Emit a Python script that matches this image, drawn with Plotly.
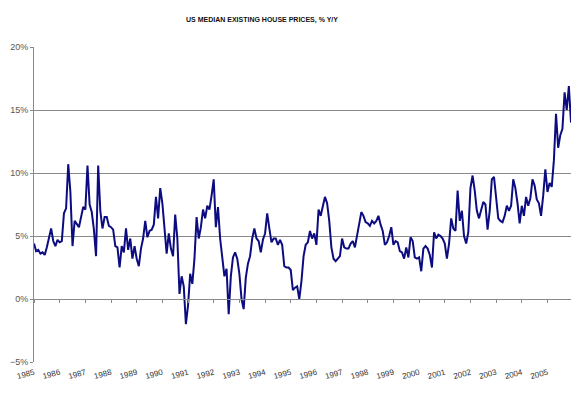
import plotly.graph_objects as go

years = [str(y) for y in range(1985, 2006)]

# Monthly Y/Y % change, Jan 1985 - Dec 2005
v1985 = [4.4, 3.8, 3.9, 3.6, 3.7, 3.5, 4.1, 4.9, 5.6, 4.6, 4.2, 4.7]
v1986 = [4.5, 4.6, 6.8, 7.2, 10.7, 8.5, 4.2, 6.2, 5.9, 5.7, 6.5, 7.3]
v1987 = [7.1, 10.6, 7.5, 6.9, 5.5, 3.4, 10.6, 7.0, 5.6, 6.5, 6.5, 5.8]
v1988 = [5.7, 5.5, 4.2, 4.1, 2.5, 4.2, 3.7, 5.6, 3.9, 4.8, 3.2, 4.2]
v1989 = [3.2, 2.6, 4.0, 4.8, 6.2, 4.9, 5.4, 5.5, 5.9, 8.1, 6.4, 8.8]
v1990 = [7.6, 5.3, 3.6, 5.2, 4.0, 3.4, 6.7, 4.8, 0.4, 1.8, 1.0, -2.0]
v1991 = [-0.5, 2.0, 1.2, 3.2, 6.5, 4.8, 5.7, 7.1, 6.4, 7.4, 7.1, 8.2]
v1992 = [9.5, 5.7, 7.3, 4.8, 3.5, 1.8, 2.4, -1.2, 1.8, 3.3, 3.7, 3.2]
v1993 = [2.0, 0.0, -0.8, 1.7, 2.8, 3.4, 4.8, 5.6, 4.8, 4.6, 3.7, 4.7]
v1994 = [5.2, 6.8, 5.6, 4.5, 4.8, 4.8, 4.3, 4.7, 4.3, 2.6, 2.5, 2.5]
v1995 = [2.3, 0.7, 0.9, 1.0, 0.0, 1.4, 3.4, 4.3, 4.5, 5.4, 4.8, 5.2]
v1996 = [4.3, 7.1, 6.6, 7.3, 8.1, 7.6, 6.2, 4.1, 3.2, 3.0, 3.2, 3.4]
v1997 = [4.8, 4.1, 4.0, 4.0, 4.4, 4.6, 4.1, 5.0, 6.2, 6.9, 6.6, 6.1]
v1998 = [6.0, 5.8, 6.2, 6.0, 6.2, 6.6, 5.9, 5.4, 4.3, 4.5, 5.0, 5.7]
v1999 = [4.3, 4.6, 4.5, 3.8, 3.7, 3.2, 4.1, 3.3, 4.9, 4.6, 3.3, 3.2]
v2000 = [3.3, 2.2, 4.0, 4.2, 4.0, 3.5, 2.5, 5.3, 4.8, 5.1, 5.0, 4.8]
v2001 = [4.4, 3.2, 4.4, 6.4, 5.6, 5.4, 8.6, 6.2, 7.0, 5.0, 4.4, 5.3]
v2002 = [8.8, 9.8, 8.6, 7.0, 6.4, 7.0, 7.7, 7.5, 5.5, 7.0, 9.5, 9.7]
v2003 = [7.9, 6.4, 6.2, 6.1, 6.6, 7.4, 7.0, 7.4, 9.5, 8.8, 7.6, 6.0]
v2004 = [7.4, 6.6, 8.1, 7.4, 8.0, 9.5, 9.0, 7.9, 7.6, 6.6, 8.2, 10.3]
v2005 = [8.5, 9.2, 8.9, 11.0, 14.7, 12.0, 13.0, 13.5, 16.4, 15.0, 16.9, 14.0]

values = (v1985 + v1986 + v1987 + v1988 + v1989 + v1990 + v1991 + v1992 +
          v1993 + v1994 + v1995 + v1996 + v1997 + v1998 + v1999 + v2000 +
          v2001 + v2002 + v2003 + v2004 + v2005)
months = list(range(len(values)))
tickpos = [12 * k for k in range(len(years))]

GRID = "#8a8a8a"
FONT = "Liberation Sans, Arial, sans-serif"

fig = go.Figure()
fig.add_trace(go.Scatter(
    x=months, y=values, mode="lines",
    line=dict(color="#0c0c80", width=2),
    showlegend=False, hoverinfo="skip",
))

fig.update_layout(
    width=580, height=397,
    margin=dict(l=34, r=9, t=47, b=35, autoexpand=False),
    paper_bgcolor="white", plot_bgcolor="white",
    font=dict(family=FONT, size=9, color="#555555"),
    annotations=[dict(
        text="<b>US MEDIAN EXISTING HOUSE PRICES, % Y/Y</b>",
        xref="paper", yref="paper", x=(262 - 34) / 537, y=1 + (47 - 20) / 315,
        xanchor="center", yanchor="middle", showarrow=False,
        font=dict(family=FONT, size=7, color="#111111"),
    )],
    xaxis=dict(
        range=[0, len(values) - 1],
        tickmode="array", tickvals=tickpos, ticktext=years,
        tickangle=-15, tickfont=dict(size=8, color="#333333"),
        showgrid=False, zeroline=False,
        showline=True, linecolor=GRID, linewidth=1,
        ticks="outside", ticklen=3, tickcolor=GRID,
        anchor="free", position=0.2,
        ticklabelstandoff=62, automargin=False,
    ),
    yaxis=dict(
        range=[-5, 20], dtick=5, tick0=0, ticksuffix="%",
        showgrid=True, gridcolor=GRID, gridwidth=1,
        zeroline=False,
        showline=True, linecolor=GRID, linewidth=1,
        ticks="outside", ticklen=3, tickcolor=GRID,
        tickfont=dict(size=9, color="#555555"),
        automargin=False,
    ),
)

fig.write_html(
    "out.html",
    config={"displayModeBar": False, "staticPlot": True},
    post_script="document.body.style.margin='0';document.body.style.overflow='hidden';",
)
